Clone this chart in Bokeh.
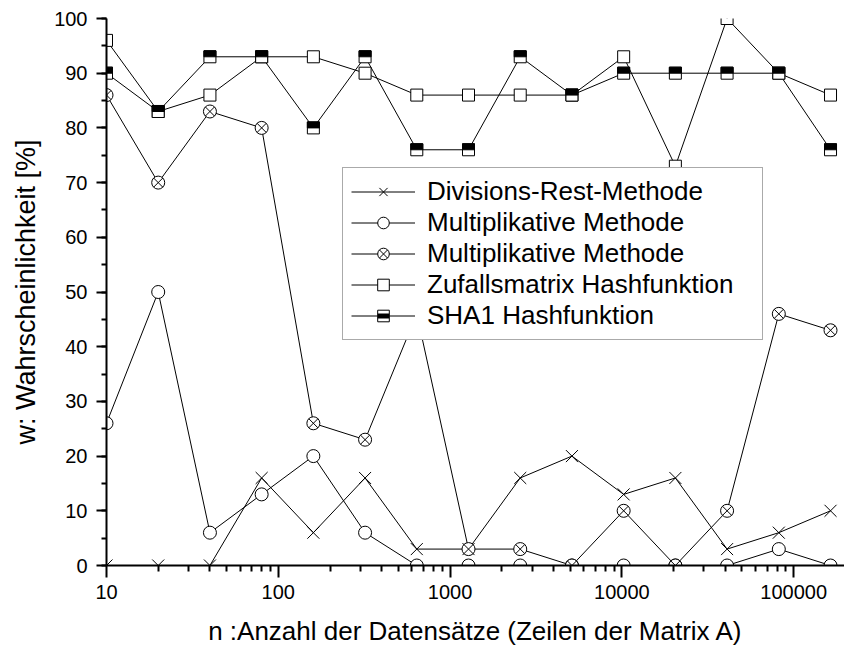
import numpy as np
from bokeh.plotting import figure
from bokeh.models import (ColumnDataSource, Range1d, FixedTicker, NumeralTickFormatter,
                          SingleIntervalTicker, Legend, LegendItem)
from bokeh.embed import file_html
from bokeh.resources import INLINE

# ---- data ----
n_rows = [10, 20, 40, 80, 160, 320, 640, 1280, 2560, 5120, 10240, 20480, 40960, 81920, 163840]
divisions_rest = [0, 0, 0, 16, 6, 16, 3, 3, 16, 20, 13, 16, 3, 6, 10]
multiplikativ = [26, 50, 6, 13, 20, 6, 0, 0, 0, 0, 0, 0, 0, 3, 0]
multiplikativ_2 = [86, 70, 83, 80, 26, 23, 46, 3, 3, 0, 10, 0, 10, 46, 43]
zufallsmatrix = [96, 83, 86, 93, 93, 90, 86, 86, 86, 86, 93, 73, 100, 90, 86]
sha1 = [90, 83, 93, 93, 80, 93, 76, 76, 93, 86, 90, 90, 90, 90, 76]

labels = ["Divisions-Rest-Methode", "Multiplikative Methode", "Multiplikative Methode",
          "Zufallsmatrix Hashfunktion", "SHA1 Hashfunktion"]
x_major = [10, 100, 1000, 10000, 100000]
x_minor = [m * 10 ** e for e in range(1, 6) for m in range(2, 10)]
x_title = "n :Anzahl der Datensätze (Zeilen der Matrix A)"
y_title = "w: Wahrscheinlichkeit [%]"

FONT = "Liberation Sans"
W, H = 844, 652
B_LEFT, B_TOP, B_BOTTOM = 106, 18, 87
X0, X1 = 10, 197600
Y0, Y1 = 0, 100

p = figure(width=W, height=H, x_axis_type="log",
           x_range=Range1d(X0, X1), y_range=Range1d(Y0, Y1),
           output_backend="svg", toolbar_location=None,
           min_border_left=B_LEFT, min_border_right=0,
           min_border_top=B_TOP, min_border_bottom=B_BOTTOM)
p.grid.visible = False
p.outline_line_color = None
p.background_fill_color = "white"
p.border_fill_color = "white"

# axes
xa = p.xaxis[0]
xa.ticker = FixedTicker(ticks=x_major, minor_ticks=x_minor)
xa.formatter = NumeralTickFormatter(format="0")
xa.axis_label = x_title
xa.major_tick_out = 12
xa.minor_tick_out = 6
xa.major_label_standoff = 7
xa.axis_label_standoff = 14

ya = p.yaxis[0]
ya.ticker = SingleIntervalTicker(interval=10, num_minor_ticks=2)
ya.axis_label = y_title
ya.major_tick_out = 10
ya.minor_tick_out = 5
ya.major_label_standoff = 9
ya.axis_label_standoff = 10

for ax in (xa, ya):
    ax.major_tick_in = 0
    ax.minor_tick_in = 0
    ax.axis_line_width = 2
    ax.major_tick_line_width = 2
    ax.minor_tick_line_width = 2
    ax.axis_line_color = "black"
    ax.major_tick_line_color = "black"
    ax.minor_tick_line_color = "black"
    ax.major_label_text_font = FONT
    ax.major_label_text_font_size = "20px"
    ax.major_label_text_color = "black"
    ax.axis_label_text_font = FONT
    ax.axis_label_text_font_style = "normal"
    ax.axis_label_text_color = "black"
xa.axis_label_text_font_size = "26px"
ya.axis_label_text_font_size = "27px"

# series
series = [divisions_rest, multiplikativ, multiplikativ_2, zufallsmatrix, sha1]
markers = ["x", "circle", "circle_x", "square", "square"]
sizes = [17, 13, 13, 12, 12]

line_rs = []
for vals in series:
    line_rs.append(p.line(n_rows, vals, line_color="black", line_width=1))

marker_rs = []
for vals, mk, sz in zip(series, markers, sizes):
    marker_rs.append(p.scatter(n_rows, vals, marker=mk, size=sz, line_color="black",
                               fill_color="white", line_width=1))

# SHA1: upper half of the square filled black
frame_h = H - B_TOP - B_BOTTOM
px_per_unit = frame_h / (Y1 - Y0)
half = sizes[4] / 2.0
p.rect(x=n_rows, y=[v + (half / 2.0) / px_per_unit for v in sha1],
       width=sizes[4], width_units="screen", height=half, height_units="screen",
       fill_color="black", line_color="black", line_width=1)

# legend-only helper glyph for the SHA1 half-filled marker
helper_src = ColumnDataSource(data=dict(x=[np.nan], y=[np.nan]))
band = p.scatter("x", "y", source=helper_src, marker="dash", size=12,
                 line_color="black", line_width=5)

items = []
for i, lab in enumerate(labels):
    rs = [line_rs[i], marker_rs[i]]
    if i == 4:
        rs.append(band)
    items.append(LegendItem(label=lab, renderers=rs))

legend = Legend(items=items, location=(236, 225),
                glyph_width=64, glyph_height=29, spacing=0, padding=8,
                label_standoff=12, label_width=327,
                label_text_font=FONT, label_text_font_size="26px",
                label_text_color="black",
                border_line_color="#555555", border_line_width=1,
                background_fill_color="white", background_fill_alpha=1.0)
p.add_layout(legend, "center")

open("out.html", "w").write(file_html(p, INLINE))
